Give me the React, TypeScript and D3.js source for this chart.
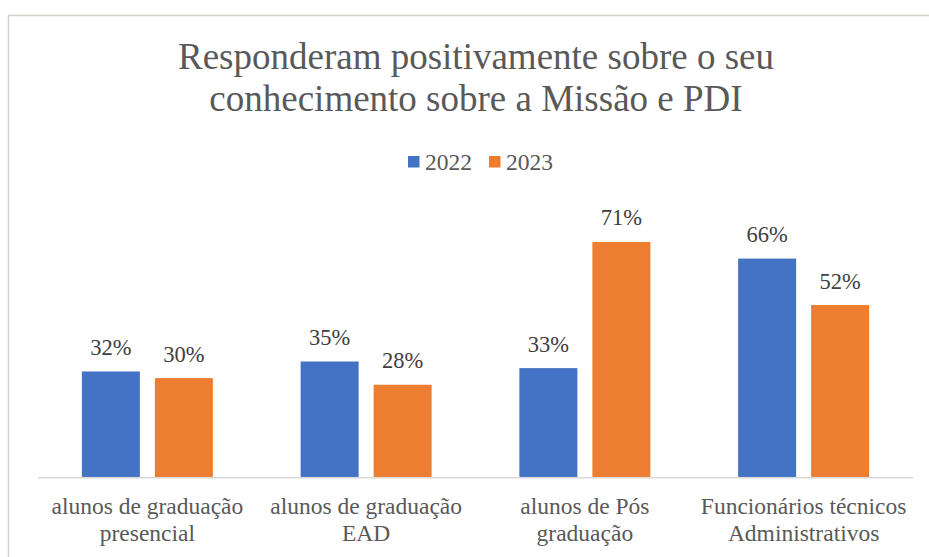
import React from "react";
import * as d3 from "d3";

const categories = [
  ["alunos de graduação", "presencial"],
  ["alunos de graduação", "EAD"],
  ["alunos de Pós", "graduação"],
  ["Funcionários técnicos", "Administrativos"],
];
const seriesNames = ["2022", "2023"];
const values2022 = [32, 35, 33, 66];
const values2023 = [30, 28, 71, 52];
const colors = ["#4472C4", "#ED7D31"];
const titleLines = ["Responderam positivamente sobre o seu", "conhecimento sobre a Missão e PDI"];

export default function App() {
  const W = 929, H = 557;
  const plotLeft = 38, plotRight = 913, baseY = 477.7;
  const x0 = d3.scaleBand<number>().domain(d3.range(categories.length)).range([plotLeft, plotRight]).paddingInner(0).paddingOuter(0);
  const y = d3.scaleLinear().domain([0, 80]).range([baseY, baseY - 80 * 3.32]);
  const bw = 58, gap = 15;
  const txt = "#595959";
  const series = [values2022, values2023];
  const ts = { fontFamily: `"Liberation Serif"` };

  return (
    <svg width={W} height={H} style={{ position: "absolute", left: 0, top: 0, background: "#fff" }}>
      <rect x={8.5} y={15.5} width={940} height={560} fill="#fff" stroke="#d3d1cb" strokeWidth={1.5} />
      {titleLines.map((t, i) => (
        <text key={i} x={476} y={69 + i * 42} textAnchor="middle" fontSize={37} fill={txt} style={ts}>{t}</text>
      ))}
      {seriesNames.map((s, i) => {
        const lx = i === 0 ? 408 : 489;
        return (
          <g key={s}>
            <rect x={lx} y={156} width={11.5} height={11.5} fill={colors[i]} />
            <text x={lx + 17} y={170} fontSize={23.5} fill={txt} style={ts}>{s}</text>
          </g>
        );
      })}
      <line x1={plotLeft} x2={plotRight} y1={baseY} y2={baseY} stroke="#d9d9d9" strokeWidth={1.5} />
      {categories.map((c, ci) => {
        const cx = x0(ci)! + x0.bandwidth() / 2;
        return (
          <g key={ci}>
            {series.map((vals, si) => {
              const bx = si === 0 ? cx - gap / 2 - bw : cx + gap / 2;
              const top = y(vals[ci]);
              return (
                <g key={si}>
                  <rect x={bx} y={top} width={bw} height={baseY - 0.75 - top} fill={colors[si]} />
                  <text x={bx + bw / 2} y={top - 16.5} textAnchor="middle" fontSize={22.5} fill="#404040" style={ts}>{vals[ci]}%</text>
                </g>
              );
            })}
            {c.map((l, li) => (
              <text key={li} x={cx} y={514 + li * 27} textAnchor="middle" fontSize={23.5} fill={txt} style={ts}>{l}</text>
            ))}
          </g>
        );
      })}
    </svg>
  );
}
